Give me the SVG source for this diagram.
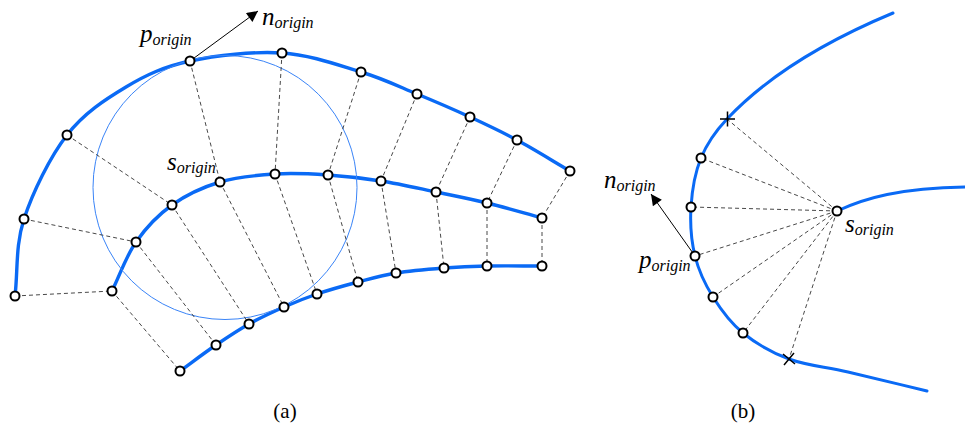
<svg xmlns="http://www.w3.org/2000/svg" width="965" height="426" viewBox="0 0 965 426">
<style>
.curve{fill:none;stroke:#0a6af5;stroke-width:3.4;stroke-linecap:round;stroke-linejoin:round}
.thin{fill:none;stroke:#3a84f7;stroke-width:1}
.dash{stroke:#333;stroke-width:0.9;stroke-dasharray:4 3;fill:none}
.arrow{stroke:#000;stroke-width:1;fill:none}
.pt{fill:#fff;stroke:#000;stroke-width:2}
.x{stroke:#000;stroke-width:1.5;fill:none}
.lbl{font-family:"Liberation Serif","Times New Roman",serif;font-style:italic;fill:#000}
.main{font-size:25px}
.sub{font-size:16px}
.cap{font-family:"Liberation Serif","Times New Roman",serif;font-size:21px;fill:#000}
</style>
<defs>
<marker id="ah" viewBox="0 0 10 10" refX="10" refY="5" markerWidth="15" markerHeight="11" markerUnits="userSpaceOnUse" orient="auto">
<path d="M0,0 L10,5 L0,10 z" fill="#000"/>
</marker>
</defs>

<g id="curves">
<path class="curve" d="M15,296 C18,270.3 15.3,245.8 24,219 C32.7,192.2 50,157 67,135 C84,113 105.5,99.3 126,87 C146.5,74.7 164,66.7 190,61 C216,55.3 253.5,51.2 282,53 C310.5,54.8 338.5,65.2 361,72 C383.5,78.8 398.8,86.5 417,94 C435.2,101.5 453.3,109.3 470,117 C486.7,124.7 500.3,131 517,140 C533.7,149 552.3,160.7 570,171"/>
<path class="curve" d="M112,291 C120,274.7 126,256.3 136,242 C146,227.7 158,215 172,205 C186,195 202.8,187.2 220,182 C237.2,176.8 257,175.2 275,174 C293,172.8 310.3,173.8 328,175 C345.7,176.2 363,178.2 381,181 C399,183.8 418.3,188.3 436,192 C453.7,195.7 469.3,198.7 487,203 C504.7,207.3 523.7,213 542,218"/>
<path class="curve" d="M180,371 C192,362.3 204.5,352.8 216,345 C227.5,337.2 237.7,330.3 249,324 C260.3,317.7 272.7,312 284,307 C295.3,302 304.7,298.2 317,294 C329.3,289.8 344.8,285.5 358,282 C371.2,278.5 381.7,275.3 396,273 C410.3,270.7 428.8,269.2 444,268 C459.2,266.8 470.7,266.3 487,266 C503.3,265.7 523.7,266 542,266"/>
<circle class="thin" cx="225" cy="187.5" r="132"/>
<path class="curve" style="stroke-width:3" d="M893,13 C845,33 775,68 727,119 C717,129.6 707,143.3 701,158 C695,172.7 692,190.7 691,207 C690,223.3 691.3,241 695,256 C698.7,271 705,284.2 713,297 C721,309.8 730.3,322.7 743,333 C755.7,343.3 771.5,352.5 789,359 C806.5,365.5 825,366.7 848,372 C871,377.3 900.7,384.7 927,391"/>
<path class="curve" style="stroke-width:3" d="M837,211 C865,198 900,188 965,187"/>
</g>

<g id="connectors">
<line class="dash" x1="15" y1="296" x2="112" y2="291"/>
<line class="dash" x1="24" y1="219" x2="136" y2="242"/>
<line class="dash" x1="67" y1="135" x2="172" y2="205"/>
<line class="dash" x1="190" y1="61" x2="220" y2="182"/>
<line class="dash" x1="282" y1="53" x2="275" y2="174"/>
<line class="dash" x1="361" y1="72" x2="328" y2="175"/>
<line class="dash" x1="417" y1="94" x2="381" y2="181"/>
<line class="dash" x1="470" y1="117" x2="436" y2="192"/>
<line class="dash" x1="517" y1="140" x2="487" y2="203"/>
<line class="dash" x1="570" y1="171" x2="542" y2="218"/>
<line class="dash" x1="112" y1="291" x2="180" y2="371"/>
<line class="dash" x1="136" y1="242" x2="216" y2="345"/>
<line class="dash" x1="172" y1="205" x2="249" y2="324"/>
<line class="dash" x1="220" y1="182" x2="284" y2="307"/>
<line class="dash" x1="275" y1="174" x2="317" y2="294"/>
<line class="dash" x1="328" y1="175" x2="358" y2="282"/>
<line class="dash" x1="381" y1="181" x2="396" y2="273"/>
<line class="dash" x1="436" y1="192" x2="444" y2="268"/>
<line class="dash" x1="487" y1="203" x2="487" y2="266"/>
<line class="dash" x1="542" y1="218" x2="542" y2="266"/>
<line class="arrow" x1="190" y1="61" x2="258" y2="11" marker-end="url(#ah)"/>
<line class="dash" x1="837" y1="211" x2="727" y2="119"/>
<line class="dash" x1="837" y1="211" x2="701" y2="158"/>
<line class="dash" x1="837" y1="211" x2="691" y2="207"/>
<line class="dash" x1="837" y1="211" x2="695" y2="256"/>
<line class="dash" x1="837" y1="211" x2="713" y2="297"/>
<line class="dash" x1="837" y1="211" x2="743" y2="333"/>
<line class="dash" x1="837" y1="211" x2="789" y2="359"/>
<line class="arrow" x1="695" y1="256" x2="651" y2="194" marker-end="url(#ah)"/>
</g>

<g id="a-outer">
<g id="a-o1"><circle class="pt" cx="15" cy="296" r="4.5"/></g>
<g id="a-o2"><circle class="pt" cx="24" cy="219" r="4.5"/></g>
<g id="a-o3"><circle class="pt" cx="67" cy="135" r="4.5"/></g>
<g id="a-p-origin"><circle class="pt" cx="190" cy="61" r="4.5"/></g>
<g id="a-o5"><circle class="pt" cx="282" cy="53" r="4.5"/></g>
<g id="a-o6"><circle class="pt" cx="361" cy="72" r="4.5"/></g>
<g id="a-o7"><circle class="pt" cx="417" cy="94" r="4.5"/></g>
<g id="a-o8"><circle class="pt" cx="470" cy="117" r="4.5"/></g>
<g id="a-o9"><circle class="pt" cx="517" cy="140" r="4.5"/></g>
<g id="a-o10"><circle class="pt" cx="570" cy="171" r="4.5"/></g>
</g>
<g id="a-middle">
<g id="a-m1"><circle class="pt" cx="112" cy="291" r="4.5"/></g>
<g id="a-m2"><circle class="pt" cx="136" cy="242" r="4.5"/></g>
<g id="a-m3"><circle class="pt" cx="172" cy="205" r="4.5"/></g>
<g id="a-s-origin"><circle class="pt" cx="220" cy="182" r="4.5"/></g>
<g id="a-m5"><circle class="pt" cx="275" cy="174" r="4.5"/></g>
<g id="a-m6"><circle class="pt" cx="328" cy="175" r="4.5"/></g>
<g id="a-m7"><circle class="pt" cx="381" cy="181" r="4.5"/></g>
<g id="a-m8"><circle class="pt" cx="436" cy="192" r="4.5"/></g>
<g id="a-m9"><circle class="pt" cx="487" cy="203" r="4.5"/></g>
<g id="a-m10"><circle class="pt" cx="542" cy="218" r="4.5"/></g>
</g>
<g id="a-inner">
<g id="a-i1"><circle class="pt" cx="180" cy="371" r="4.5"/></g>
<g id="a-i2"><circle class="pt" cx="216" cy="345" r="4.5"/></g>
<g id="a-i3"><circle class="pt" cx="249" cy="324" r="4.5"/></g>
<g id="a-i4"><circle class="pt" cx="284" cy="307" r="4.5"/></g>
<g id="a-i5"><circle class="pt" cx="317" cy="294" r="4.5"/></g>
<g id="a-i6"><circle class="pt" cx="358" cy="282" r="4.5"/></g>
<g id="a-i7"><circle class="pt" cx="396" cy="273" r="4.5"/></g>
<g id="a-i8"><circle class="pt" cx="444" cy="268" r="4.5"/></g>
<g id="a-i9"><circle class="pt" cx="487" cy="266" r="4.5"/></g>
<g id="a-i10"><circle class="pt" cx="542" cy="266" r="4.5"/></g>
</g>

<g id="b-nodes">
<g id="b-cross-top"><path class="x" d="M720,119 H735 M727.5,111.5 V126.5"/></g>
<g id="b-b1"><circle class="pt" cx="701" cy="158" r="4.5"/></g>
<g id="b-b2"><circle class="pt" cx="691" cy="207" r="4.5"/></g>
<g id="b-p-origin"><circle class="pt" cx="695" cy="256" r="4.5"/></g>
<g id="b-b4"><circle class="pt" cx="713" cy="297" r="4.5"/></g>
<g id="b-b5"><circle class="pt" cx="743" cy="333" r="4.5"/></g>
<g id="b-cross-bottom"><path class="x" d="M783,354 L795,364 M784,365 L794,353"/></g>
<g id="b-s-origin"><circle class="pt" cx="837" cy="211" r="4.5"/></g>
</g>

<g id="labels">
<text class="lbl" x="262" y="25"><tspan class="main">n</tspan><tspan class="sub" dy="2.5">origin</tspan></text>
<text class="lbl" x="140" y="42"><tspan class="main">p</tspan><tspan class="sub" dy="2.5">origin</tspan></text>
<text class="lbl" x="167" y="170"><tspan class="main">s</tspan><tspan class="sub" dy="2.5">origin</tspan></text>
<text class="lbl" x="604" y="188"><tspan class="main">n</tspan><tspan class="sub" dy="2.5">origin</tspan></text>
<text class="lbl" x="639" y="268"><tspan class="main">p</tspan><tspan class="sub" dy="2.5">origin</tspan></text>
<text class="lbl" x="845" y="232"><tspan class="main">s</tspan><tspan class="sub" dy="2.5">origin</tspan></text>
<text class="cap" x="285" y="418" text-anchor="middle">(a)</text>
<text class="cap" x="743" y="418" text-anchor="middle">(b)</text>
</g>
</svg>
